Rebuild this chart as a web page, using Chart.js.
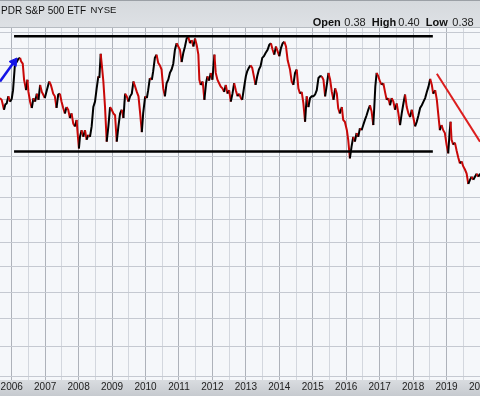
<!DOCTYPE html>
<html>
<head>
<meta charset="utf-8">
<script src="https://cdn.jsdelivr.net/npm/chart.js@4.4.1/dist/chart.umd.min.js"></script>
<style>
  html, body { margin: 0; padding: 0; background: #fff; }
  canvas { display: block; }
</style>
</head>
<body>
<canvas id="ratioChart" width="480" height="396"></canvas>
<script>
// Weekly-ish closes (decimal years / ratio value)
const dates = [
  2005.65, 2005.70, 2005.77, 2005.81, 2005.85, 2005.90, 2005.95,
  2006.00, 2006.04, 2006.10, 2006.15, 2006.20, 2006.25, 2006.28, 2006.33, 2006.37, 2006.43, 2006.47, 2006.50,
  2006.55, 2006.60, 2006.65, 2006.70, 2006.75, 2006.80, 2006.85, 2006.90, 2006.94, 2006.99,
  2007.05, 2007.12, 2007.17, 2007.20, 2007.24, 2007.29, 2007.34, 2007.39, 2007.44, 2007.49,
  2007.54, 2007.59, 2007.64, 2007.69, 2007.74, 2007.79, 2007.84, 2007.89, 2007.94, 2007.97,
  2008.01, 2008.04, 2008.09, 2008.14, 2008.19, 2008.24, 2008.29, 2008.34, 2008.39, 2008.44, 2008.49,
  2008.54, 2008.59, 2008.62, 2008.66, 2008.69, 2008.74, 2008.79, 2008.84, 2008.89, 2008.94, 2008.99,
  2009.04, 2009.09, 2009.14, 2009.19, 2009.24, 2009.29, 2009.34, 2009.39, 2009.44, 2009.49,
  2009.54, 2009.59, 2009.64, 2009.69, 2009.74, 2009.79, 2009.84, 2009.89, 2009.93, 2009.99,
  2010.04, 2010.08, 2010.13, 2010.19, 2010.23, 2010.28, 2010.33, 2010.38, 2010.43, 2010.48,
  2010.53, 2010.58, 2010.63, 2010.68, 2010.73, 2010.78, 2010.83, 2010.88, 2010.93, 2010.98,
  2011.03, 2011.08, 2011.13, 2011.18, 2011.23, 2011.28, 2011.33, 2011.38, 2011.43, 2011.48,
  2011.53, 2011.58, 2011.61, 2011.65, 2011.71, 2011.76, 2011.81, 2011.85, 2011.90, 2011.95,
  2012.00, 2012.06, 2012.10, 2012.15, 2012.20, 2012.25, 2012.30, 2012.35, 2012.40, 2012.45,
  2012.50, 2012.55, 2012.60, 2012.65, 2012.70, 2012.75, 2012.80, 2012.85, 2012.89, 2012.95,
  2013.00, 2013.04, 2013.09, 2013.14, 2013.19, 2013.24, 2013.29, 2013.34, 2013.39, 2013.44,
  2013.49, 2013.54, 2013.59, 2013.65, 2013.70, 2013.75, 2013.80, 2013.85, 2013.90, 2013.95,
  2014.00, 2014.05, 2014.10, 2014.15, 2014.20, 2014.25, 2014.32, 2014.37, 2014.42, 2014.47,
  2014.52, 2014.57, 2014.62, 2014.67, 2014.72, 2014.77, 2014.82, 2014.87, 2014.92, 2014.97,
  2015.02, 2015.07, 2015.12, 2015.17, 2015.22, 2015.27, 2015.32, 2015.37, 2015.42, 2015.47,
  2015.52, 2015.57, 2015.62, 2015.67, 2015.72, 2015.76, 2015.81, 2015.87, 2015.91, 2015.96,
  2016.02, 2016.06, 2016.11, 2016.16, 2016.21, 2016.26, 2016.31, 2016.36, 2016.41, 2016.46,
  2016.51, 2016.56, 2016.61, 2016.66, 2016.71, 2016.76, 2016.81, 2016.84, 2016.87, 2016.91, 2016.96,
  2017.01, 2017.06, 2017.11, 2017.16, 2017.21, 2017.26, 2017.31, 2017.36, 2017.41, 2017.46,
  2017.51, 2017.56, 2017.61, 2017.66, 2017.71, 2017.76, 2017.81, 2017.86, 2017.91, 2017.96,
  2018.01, 2018.06, 2018.11, 2018.16, 2018.21, 2018.26, 2018.31, 2018.36, 2018.41, 2018.46,
  2018.51, 2018.56, 2018.60, 2018.66, 2018.71, 2018.75, 2018.80, 2018.85, 2018.90, 2018.95,
  2019.00, 2019.05, 2019.09, 2019.12, 2019.15, 2019.20, 2019.25, 2019.30, 2019.35, 2019.40,
  2019.45, 2019.50, 2019.55, 2019.60, 2019.65, 2019.70, 2019.75, 2019.80, 2019.85, 2019.90, 2019.95, 2020.00
];
const ratio = [
  0.582, 0.580, 0.569, 0.575, 0.576, 0.584, 0.578,
  0.581, 0.591, 0.623, 0.624, 0.628, 0.629, 0.625, 0.622, 0.603, 0.591, 0.603, 0.589,
  0.578, 0.571, 0.582, 0.578, 0.587, 0.580, 0.597, 0.589, 0.586, 0.582,
  0.591, 0.601, 0.597, 0.593, 0.587, 0.584, 0.571, 0.586, 0.587, 0.578,
  0.571, 0.565, 0.572, 0.569, 0.560, 0.565, 0.554, 0.551, 0.558, 0.544,
  0.528, 0.540, 0.547, 0.540, 0.547, 0.537, 0.542, 0.540, 0.551, 0.572, 0.578,
  0.593, 0.607, 0.605, 0.634, 0.622, 0.601, 0.572, 0.535, 0.551, 0.572, 0.569,
  0.565, 0.563, 0.535, 0.551, 0.565, 0.569, 0.560, 0.587, 0.584, 0.578,
  0.584, 0.587, 0.601, 0.595, 0.589, 0.584, 0.565, 0.545, 0.565, 0.584,
  0.582, 0.591, 0.605, 0.603, 0.613, 0.629, 0.633, 0.623, 0.620, 0.615,
  0.593, 0.584, 0.599, 0.603, 0.611, 0.615, 0.622, 0.639, 0.647, 0.643,
  0.639, 0.624, 0.635, 0.643, 0.653, 0.655, 0.647, 0.651, 0.643, 0.653,
  0.645, 0.633, 0.603, 0.597, 0.601, 0.580, 0.599, 0.607, 0.602, 0.611,
  0.603, 0.633, 0.611, 0.603, 0.599, 0.595, 0.593, 0.589, 0.597, 0.587,
  0.591, 0.578, 0.587, 0.599, 0.591, 0.584, 0.587, 0.582, 0.580, 0.595,
  0.607, 0.613, 0.617, 0.620, 0.617, 0.607, 0.597, 0.607, 0.615, 0.619,
  0.629, 0.631, 0.635, 0.639, 0.645, 0.647, 0.639, 0.633, 0.643, 0.637,
  0.631, 0.641, 0.647, 0.649, 0.643, 0.626, 0.615, 0.601, 0.597, 0.611,
  0.615, 0.593, 0.587, 0.589, 0.576, 0.556, 0.584, 0.572, 0.582, 0.584,
  0.584, 0.586, 0.591, 0.605, 0.607, 0.607, 0.603, 0.584, 0.597, 0.611,
  0.603, 0.589, 0.580, 0.593, 0.587, 0.571, 0.565, 0.572, 0.558, 0.556,
  0.547, 0.537, 0.518, 0.530, 0.540, 0.535, 0.544, 0.540, 0.549, 0.547,
  0.5525, 0.558, 0.563, 0.569, 0.574, 0.567, 0.5525, 0.572, 0.595, 0.611, 0.607,
  0.601, 0.597, 0.599, 0.589, 0.580, 0.582, 0.574, 0.582, 0.578, 0.569,
  0.576, 0.565, 0.5525, 0.565, 0.576, 0.586, 0.572, 0.565, 0.561, 0.569,
  0.560, 0.551, 0.556, 0.563, 0.571, 0.574, 0.578, 0.582, 0.589, 0.595,
  0.604, 0.597, 0.587, 0.591, 0.580, 0.565, 0.547, 0.5525, 0.547, 0.544,
  0.532, 0.523, 0.544, 0.556, 0.537, 0.532, 0.534, 0.526, 0.519, 0.513,
  0.515, 0.510, 0.507, 0.503, 0.493, 0.497, 0.500, 0.497, 0.500, 0.503, 0.500, 0.503
];

// Drawn annotations (start / end)
const channelDates = [2006.07, 2018.59];
const resistanceLevel = [0.656, 0.656];
const supportLevel = [0.525, 0.525];
const downtrendDates = [2018.71, 2020.0];
const downtrendLevel = [0.610, 0.535];
const arrowDates = [2005.65, 2006.07];
const arrowLevel = [0.601, 0.624];

// Horizontal grid values (log scale) and x range
const gridLevels = [0.34, 0.36, 0.38, 0.40, 0.42, 0.44, 0.46, 0.48, 0.50, 0.52, 0.54, 0.56, 0.58, 0.60, 0.62, 0.64, 0.66];
const yearTicks = [2006, 2006.5, 2007, 2007.5, 2008, 2008.5, 2009, 2009.5, 2010, 2010.5, 2011, 2011.5, 2012, 2012.5,
  2013, 2013.5, 2014, 2014.5, 2015, 2015.5, 2016, 2016.5, 2017, 2017.5, 2018, 2018.5, 2019, 2019.5, 2020];

const RED = '#c80808';
const BLACK = '#000000';

function pairs(xs, ys) {
  return xs.map((x, i) => ({ x: x, y: ys[i] }));
}

const chartFrame = {
  id: 'chartFrame',
  beforeDraw(chart) {
    const { ctx, chartArea: a, width, height } = chart;
    ctx.save();
    // header band
    let g = ctx.createLinearGradient(0, 0, 0, 28);
    g.addColorStop(0, '#d5d9dd');
    g.addColorStop(1, '#dee1e5');
    ctx.fillStyle = g;
    ctx.fillRect(0, 0, width, 28);
    ctx.fillStyle = '#9ba0a6';
    ctx.fillRect(0, 0, width, 1);
    ctx.fillStyle = '#b6bbc1';
    ctx.fillRect(0, 27, width, 1);
    // plot background
    ctx.fillStyle = '#f5f7fa';
    ctx.fillRect(a.left, a.top, a.right - a.left, a.bottom - a.top);
    // date band
    g = ctx.createLinearGradient(0, a.bottom, 0, height);
    g.addColorStop(0, '#d9dce0');
    g.addColorStop(1, '#c6cacf');
    ctx.fillStyle = g;
    ctx.fillRect(0, a.bottom, width, height - a.bottom);
    ctx.restore();
  },
  afterDraw(chart) {
    const ctx = chart.ctx;
    ctx.save();
    ctx.textBaseline = 'alphabetic';
    ctx.fillStyle = '#111';
    ctx.font = '10px "Liberation Sans", Arial, sans-serif';
    ctx.fillText('PDR S&P 500 ETF', 1, 13.5);
    ctx.font = '9.5px "Liberation Sans", Arial, sans-serif';
    ctx.fillText('NYSE', 90.5, 13);

    const bold = 'bold 11px "Liberation Sans", Arial, sans-serif';
    const plain = '11px "Liberation Sans", Arial, sans-serif';
    const parts = [
      ['Open', bold, 312.7], ['0.38', plain, 344.3],
      ['High', bold, 371.7], ['0.40', plain, 398.3],
      ['Low', bold, 425.7], ['0.38', plain, 452.3]
    ];
    parts.forEach(p => {
      ctx.font = p[1];
      ctx.fillStyle = p[1] === bold ? '#111' : '#222';
      ctx.fillText(p[0], p[2], 25.5);
    });
    ctx.restore();
  }
};

const ctx = document.getElementById('ratioChart');

new Chart(ctx, {
  type: 'line',
  data: {
    datasets: [
      {
        label: 'Ratio',
        data: pairs(dates, ratio),
        borderWidth: 2,
        borderColor: RED,
        segment: {
          borderColor: c => (c.p1.parsed.y >= c.p0.parsed.y ? BLACK : RED)
        },
        pointRadius: 0,
        order: 2
      },
      {
        label: 'Resistance',
        data: pairs(channelDates, resistanceLevel),
        borderColor: BLACK,
        borderWidth: 2.5,
        pointRadius: 0,
        order: 1
      },
      {
        label: 'Support',
        data: pairs(channelDates, supportLevel),
        borderColor: BLACK,
        borderWidth: 2.5,
        pointRadius: 0,
        order: 1
      },
      {
        label: 'Downtrend',
        data: pairs(downtrendDates, downtrendLevel),
        borderColor: '#dc1e1e',
        borderWidth: 2,
        pointRadius: 0,
        order: 1
      },
      {
        label: 'Arrow',
        data: pairs(arrowDates, arrowLevel),
        borderColor: '#1414e6',
        backgroundColor: '#1414e6',
        borderWidth: 2.5,
        pointStyle: 'triangle',
        pointRadius: [0, 5],
        pointBorderWidth: 1,
        rotation: 36,
        order: 1
      }
    ]
  },
  options: {
    responsive: false,
    animation: false,
    devicePixelRatio: 1,
    layout: { autoPadding: false, padding: { top: 28, left: 0, right: 0, bottom: 0 } },
    plugins: {
      legend: { display: false },
      tooltip: { enabled: false }
    },
    events: [],
    scales: {
      x: {
        type: 'linear',
        min: 2005.65,
        max: 2020.0,
        border: { display: false },
        afterBuildTicks: scale => {
          scale.ticks = yearTicks.map(v => ({ value: v }));
        },
        afterFit: scale => {
          scale.height = 16;
          scale.paddingLeft = 0;
          scale.paddingRight = 0;
        },
        grid: {
          drawTicks: false,
          color: c => (c.tick && c.tick.value % 1 === 0 ? '#aeb2ba' : '#d3d7de'),
          lineWidth: 1
        },
        ticks: {
          autoSkip: false,
          maxRotation: 0,
          padding: 1,
          color: '#222',
          font: { family: '"Liberation Sans", Arial, sans-serif', size: 10 },
          callback: v => (v % 1 === 0 ? String(v) : '')
        }
      },
      y: {
        type: 'logarithmic',
        position: 'right',
        min: 0.3376,
        max: 0.6664,
        border: { display: false },
        afterBuildTicks: scale => {
          scale.ticks = gridLevels.map(v => ({ value: v }));
        },
        afterFit: scale => {
          scale.width = 0;
        },
        grid: {
          drawTicks: false,
          color: '#c5c9d1',
          lineWidth: 1
        },
        ticks: { display: false }
      }
    }
  },
  plugins: [chartFrame]
});
</script>
</body>
</html>
